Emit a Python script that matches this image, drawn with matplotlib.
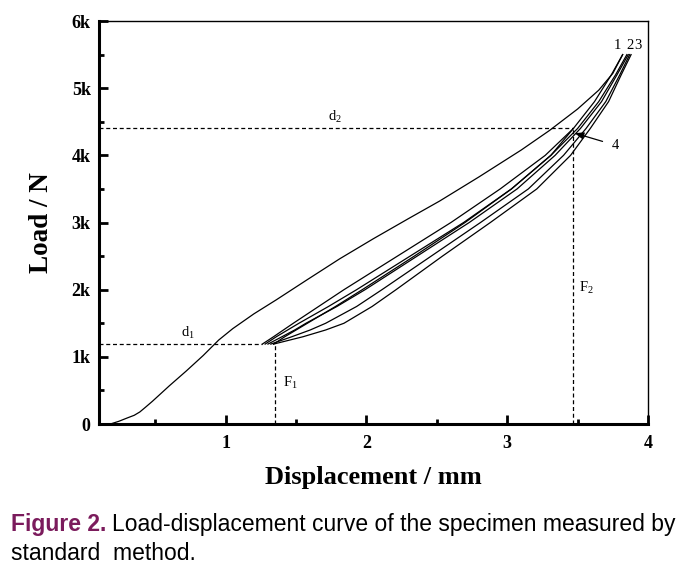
import matplotlib
matplotlib.use('Agg')
import matplotlib.pyplot as plt
from matplotlib.ticker import MultipleLocator

# first loading curve (displacement mm, load kN)
main_x = [0.18, 0.24, 0.30, 0.35, 0.39, 0.43, 0.48, 0.60, 0.72, 0.84, 0.95, 1.05, 1.20, 1.36, 1.58,
          1.81, 2.05, 2.30, 2.52, 2.80, 3.10, 3.30, 3.50, 3.65, 3.75, 3.82]
main_y = [0.00, 0.04, 0.09, 0.13, 0.18, 0.25, 0.34, 0.57, 0.79, 1.02, 1.25, 1.42, 1.64, 1.85, 2.15,
          2.46, 2.76, 3.06, 3.32, 3.68, 4.08, 4.37, 4.69, 4.97, 5.22, 5.50]

# cycle curves, displacement at these load levels
loop_load = [1.19, 1.3, 1.4, 1.5, 1.75, 2.0, 2.5, 3.0, 3.5, 4.0, 4.4, 4.8, 5.2, 5.5]
loop1_x = [1.26, 1.34, 1.41, 1.48, 1.66, 1.84, 2.22, 2.60, 2.95, 3.27, 3.47, 3.62, 3.74, 3.82]
loop2_x = [1.28, 1.36, 1.44, 1.52, 1.73, 1.93, 2.31, 2.69, 3.03, 3.31, 3.50, 3.65, 3.77, 3.85]
loop3_x = [1.30, 1.40, 1.49, 1.57, 1.79, 1.99, 2.36, 2.73, 3.07, 3.34, 3.52, 3.67, 3.78, 3.86]
loop4_x = [1.32, 1.47, 1.60, 1.71, 1.93, 2.11, 2.46, 2.81, 3.15, 3.40, 3.56, 3.70, 3.80, 3.87]
loop5_x = [1.34, 1.55, 1.71, 1.84, 2.04, 2.21, 2.54, 2.88, 3.21, 3.45, 3.59, 3.72, 3.81, 3.88]
# last reloading, stops at point 4
last_load = [1.19, 1.3, 1.4, 1.5, 1.75, 2.0, 2.5, 3.0, 3.5, 4.0, 4.4]
last_x = [1.34, 1.42, 1.50, 1.58, 1.78, 1.97, 2.34, 2.70, 3.03, 3.31, 3.47]

d1_load, d1_end, F1_pos = 1.19, 1.26, 1.35
d2_load, F2_pos = 4.40, 3.47

yticks = [0, 1, 2, 3, 4, 5, 6]
ytick_labels = ['0', '1k', '2k', '3k', '4k', '5k', '6k']
xticks = [1, 2, 3, 4]

serif = 'Liberation Serif'
plt.rcParams['mathtext.fontset'] = 'custom'
plt.rcParams['mathtext.rm'] = serif
plt.rcParams['mathtext.it'] = serif + ':italic'

fig = plt.figure(figsize=(6.94, 5.71), dpi=100)
ax = fig.add_axes([0.1427, 0.2574, 0.7910, 0.7058])

ax.plot(main_x, main_y, color='black', lw=0.9)
for lx in [loop1_x, loop2_x, loop3_x, loop4_x, loop5_x]:
    ax.plot(lx, loop_load, color='black', lw=0.9)
ax.plot(last_x, last_load, color='black', lw=0.9)

dash = (0, (3.2, 2.2))
ax.plot([0.1, d1_end], [d1_load, d1_load], color='black', lw=0.9, linestyle=dash)
ax.plot([F1_pos, F1_pos], [0, d1_load], color='black', lw=0.9, linestyle=dash)
ax.plot([0.1, F2_pos], [d2_load, d2_load], color='black', lw=0.9, linestyle=dash)
ax.plot([F2_pos, F2_pos], [0, d2_load], color='black', lw=0.9, linestyle=dash)

lab = dict(fontfamily=serif, fontsize=10.5, ha='center', va='center')
ax.text(0.734, 1.35, r'$\mathregular{d_1}$', **lab)
ax.text(1.776, 4.57, r'$\mathregular{d_2}$', **lab)
ax.text(1.457, 0.61, r'$\mathregular{F_1}$', **lab)
ax.text(3.56, 2.02, r'$\mathregular{F_2}$', **lab)
ax.text(3.78, 5.63, '1', **lab)
ax.text(3.87, 5.63, '2', **lab)
ax.text(3.93, 5.63, '3', **lab)
ax.annotate('4', xy=(3.48, 4.33), xytext=(3.77, 4.15), fontfamily=serif, fontsize=10.5,
            ha='center', va='center',
            arrowprops=dict(arrowstyle='-|>,head_length=0.5,head_width=0.2', color='black', lw=0.9,
                            shrinkA=5, shrinkB=0))

ax.set_xlim(0.1, 4)
ax.set_ylim(0, 6)
ax.set_xticks(xticks)
ax.set_yticks(yticks)
ax.set_yticklabels(ytick_labels)
ax.xaxis.set_minor_locator(MultipleLocator(0.5))
ax.yaxis.set_minor_locator(MultipleLocator(0.5))
ax.tick_params(which='both', direction='in', top=False, right=False, width=2.0)
ax.tick_params(which='major', length=6.5)
ax.tick_params(which='minor', length=3.5)
ax.tick_params(axis='x', which='major', pad=8)
ax.tick_params(axis='y', which='major', pad=6)
for t in ax.get_xticklabels() + ax.get_yticklabels():
    t.set_fontfamily(serif)
    t.set_fontweight('bold')
    t.set_fontsize(13)
ax.spines['left'].set_linewidth(2.2)
ax.spines['bottom'].set_linewidth(2.2)
ax.spines['top'].set_linewidth(1.0)
ax.spines['right'].set_linewidth(1.0)

ax.set_xlabel('Displacement / mm', fontfamily=serif, fontweight='bold', fontsize=19, labelpad=10)
ax.set_ylabel('Load / N', fontfamily=serif, fontweight='bold', fontsize=19.5, labelpad=13)

cap1 = fig.text(11 / 694, 1 - 524 / 571, 'Figure 2.', color='#7B1B5C', fontweight='bold',
                fontfamily='Liberation Sans', fontsize=16.5, va='center')
plt.annotate('Load-displacement curve of the specimen measured by', xy=(1, 0), xycoords=cap1,
             xytext=(4, 0), textcoords='offset points', fontfamily='Liberation Sans',
             fontsize=16.5, va='bottom', ha='left')
fig.text(11 / 694, 1 - 553 / 571, 'standard  method.', fontfamily='Liberation Sans', fontsize=16.5,
         va='center')

fig.savefig('out.png', dpi=100)
